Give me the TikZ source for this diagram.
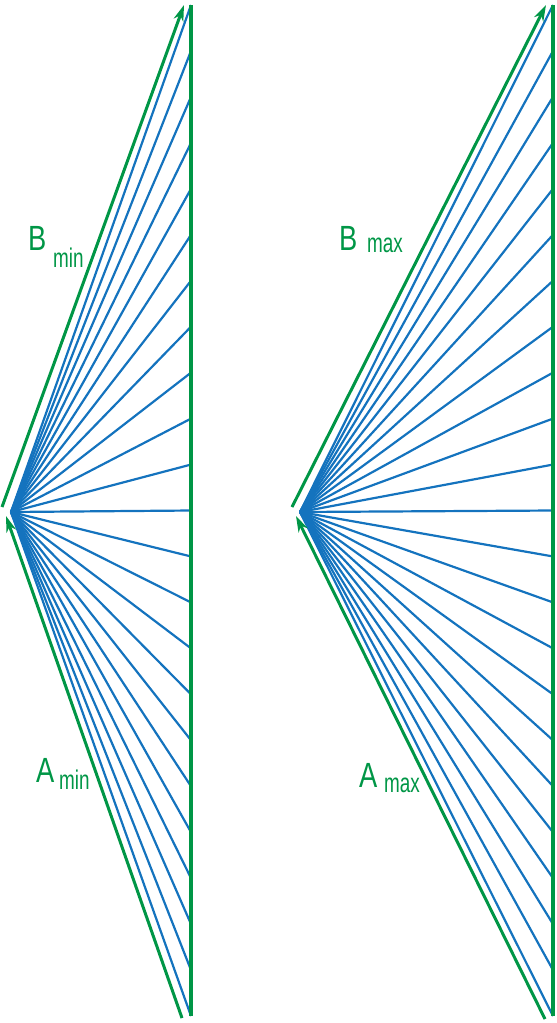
\documentclass[tikz,border=0pt]{standalone}
\usepackage{fontspec}
\setmainfont{Liberation Sans}
\usetikzlibrary{arrows.meta}
\definecolor{fgreen}{RGB}{0,150,70}
\definecolor{fblue}{RGB}{20,115,190}
\tikzset{
  ray/.style={draw=fblue, line width=2.2pt},
  edgeline/.style={draw=fgreen, line width=3.2pt},
  arrowline/.style={draw=fgreen, line width=3pt, -{Stealth[length=16pt,width=10pt,inset=5pt]}},
  lbl/.style={text=fgreen, inner sep=0pt, anchor=base west},
}
\newcommand{\bigL}[1]{\scalebox{0.78}[1]{\fontsize{35}{35}\selectfont #1}}
\newcommand{\smallL}[1]{\scalebox{0.7}[1]{\fontsize{27}{27}\selectfont #1}}
\begin{document}
\begin{tikzpicture}[x=1pt,y=-1pt]
\useasboundingbox (0,0) rectangle (557,1023);
% left fan
\coordinate (LA) at (11,512);
\coordinate (LT) at (191,5);
\coordinate (LB) at (191,1016);
\foreach \k in {0,...,22}{
  \coordinate (LE\k) at (191,{5+\k*45.955});
  \draw[ray] (LA) -- (LE\k);
}
\draw[edgeline] (LT) -- (LB);
\coordinate (LU0) at (2,507);
\coordinate (LU1) at (184,5);
\coordinate (LD0) at (182,1018);
\coordinate (LD1) at (6,516);
\draw[arrowline] (LU0) -- (LU1);
\draw[arrowline] (LD0) -- (LD1);
% right fan
\coordinate (RA) at (300,512);
\coordinate (RT) at (553,5);
\coordinate (RB) at (553,1016);
\foreach \k in {0,...,22}{
  \coordinate (RE\k) at (553,{5+\k*45.955});
  \draw[ray] (RA) -- (RE\k);
}
\draw[edgeline] (RT) -- (RB);
\coordinate (RU0) at (292,507);
\coordinate (RU1) at (546,5);
\coordinate (RD0) at (545,1019);
\coordinate (RD1) at (296,516);
\draw[arrowline] (RU0) -- (RU1);
\draw[arrowline] (RD0) -- (RD1);
% labels
\node[lbl] (bminB) at (28,250) {\bigL{B}};
\node[lbl] (bminS) at (53,267) {\smallL{min}};
\node[lbl] (aminA) at (36,782) {\bigL{A}};
\node[lbl] (aminS) at (59,789) {\smallL{min}};
\node[lbl] (bmaxB) at (339,250) {\bigL{B}};
\node[lbl] (bmaxS) at (367,252) {\smallL{max}};
\node[lbl] (amaxA) at (359,787) {\bigL{A}};
\node[lbl] (amaxS) at (384,792) {\smallL{max}};
\end{tikzpicture}
\end{document}
